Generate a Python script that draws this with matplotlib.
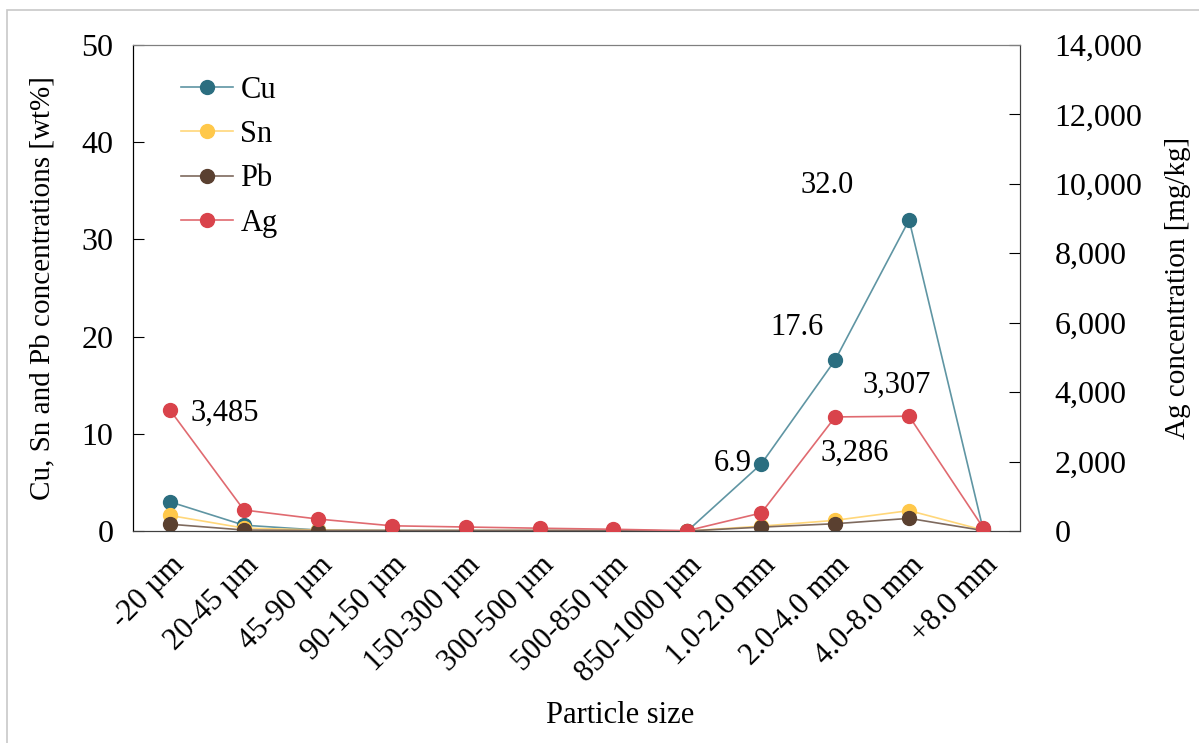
import numpy as np
import matplotlib
matplotlib.use('Agg')
import matplotlib.pyplot as plt
from matplotlib.patches import Rectangle

plt.rcParams['font.family'] = ['Liberation Serif', 'DejaVu Serif']

# Datos por fraccion granulometrica
sizes = ['-20 µm', '20-45 µm', '45-90 µm', '90-150 µm', '150-300 µm', '300-500 µm',
         '500-850 µm', '850-1000 µm', '1.0-2.0 mm', '2.0-4.0 mm', '4.0-8.0 mm', '+8.0 mm']
cu = [3.0, 0.6, 0.1, 0.05, 0.05, 0.05, 0.05, 0.0, 6.9, 17.6, 32.0, 0.2]
sn = [1.6, 0.3, 0.1, 0.05, 0.05, 0.05, 0.05, 0.0, 0.5, 1.1, 2.1, 0.1]
pb = [0.7, 0.1, 0.05, 0.05, 0.05, 0.05, 0.05, 0.0, 0.4, 0.75, 1.3, 0.05]
ag = [3485, 605, 345, 150, 115, 80, 50, 10, 520, 3286, 3307, 100]

# (color de marcador, color de linea)
c_cu = ('#2B6E80', '#5F95A3')
c_sn = ('#FFC84A', '#FFD77A')
c_pb = ('#5A4030', '#7E6A5E')
c_ag = ('#D9434B', '#E06A70')

fig = plt.figure(figsize=(11.99, 7.43), dpi=100)
fig.patches.append(Rectangle((7 / 1199, -0.01), 1.1, 1 - 10 / 743 + 0.01,
                             transform=fig.transFigure, fill=False,
                             edgecolor='#C8C8C8', linewidth=1.2))

ax = fig.add_axes([133 / 1199, 1 - 531 / 743, (1020 - 133) / 1199, (531 - 45) / 743])
ax2 = ax.twinx()

x = np.arange(len(sizes))


def serie(a, y, c, name, z=3):
    h, = a.plot(x, y, '-o', color=c[1], lw=1.2, ms=10, markerfacecolor=c[0],
                markeredgecolor=c[0], label=name, zorder=z)
    return h


h_cu = serie(ax, cu, c_cu, 'Cu')
h_sn = serie(ax, sn, c_sn, 'Sn')
h_pb = serie(ax, pb, c_pb, 'Pb', 4)
h_ag = serie(ax2, ag, c_ag, 'Ag')

ax.set_xlim(-0.5, 11.5)
ax.set_ylim(0, 50)
ax2.set_ylim(0, 14000)
ax.set_yticks(np.arange(0, 51, 10))
ax2.set_yticks(np.arange(0, 14001, 2000))
ax2.set_yticklabels([f'{v:,}' for v in range(0, 14001, 2000)])

ax.set_xticks(x)
ax.set_xticklabels(sizes, rotation=45, ha='right', rotation_mode='anchor')
ax.tick_params(axis='x', length=0, pad=14, labelsize=22)
ax.tick_params(axis='y', direction='in', length=8, labelsize=23, pad=14)
ax2.tick_params(axis='y', direction='in', length=8, labelsize=23, pad=25)

for a in (ax, ax2):
    a.spines['top'].set_color('#7F7F7F')
    a.spines['right'].set_color('#404040')
    a.spines['left'].set_color('#000000')
    a.spines['bottom'].set_color('#404040')

ax.set_ylabel('Cu, Sn and Pb concentrations [wt%]', fontsize=21)
ax.yaxis.set_label_coords(-0.088, 0.5)
ax2.set_ylabel('Ag concentration [mg/kg]', fontsize=21, rotation=90)
ax2.yaxis.set_label_coords(1.163, 0.5)
ax.set_xlabel('Particle size', fontsize=22)
ax.xaxis.set_label_coords(0.549, -0.35)

# Etiquetas de valores
txt = dict(fontsize=22, ha='center', va='center', textcoords='offset pixels')
ax.annotate(f'{cu[8]:.1f}', (x[8], cu[8]), xytext=(-29, 0), **txt)
ax.annotate(f'{cu[9]:.1f}', (x[9], cu[9]), xytext=(-38, 32), **txt)
ax.annotate(f'{cu[10]:.1f}', (x[10], cu[10]), xytext=(-82, 34), **txt)
ax2.annotate(f'{ag[0]:,}', (x[0], ag[0]), xytext=(55, -3), **txt)
ax2.annotate(f'{ag[9]:,}', (x[9], ag[9]), xytext=(19, -36), **txt)
ax2.annotate(f'{ag[10]:,}', (x[10], ag[10]), xytext=(-12, 31), **txt)

ax.set_zorder(ax2.get_zorder() - 1)
ax2.patch.set_visible(False)
ax2.legend(handles=[h_cu, h_sn, h_pb, h_ag], loc='upper left',
           bbox_to_anchor=(0.023, 0.993), frameon=False, fontsize=22,
           handlelength=1.7, handletextpad=0.25, labelspacing=0.5)

fig.savefig('out.png', dpi=100)
